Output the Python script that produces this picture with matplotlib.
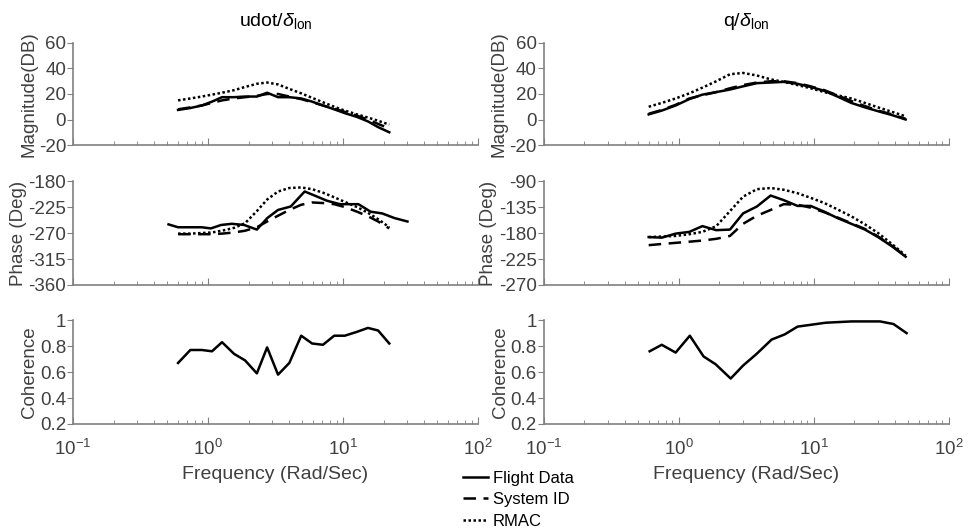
import numpy as np
import matplotlib.pyplot as plt

plt.rcParams['font.family'] = ['Liberation Sans', 'DejaVu Sans']
plt.rcParams['mathtext.fontset'] = 'custom'
plt.rcParams['mathtext.rm'] = 'Liberation Sans'
plt.rcParams['mathtext.it'] = 'Liberation Sans:italic'
plt.rcParams['axes.unicode_minus'] = False

# ---- udot / delta_lon ----
freq_u = [0.6, 0.74, 0.9, 1.07, 1.27, 1.56, 1.88, 2.3, 2.74, 3.3,
          4.0, 4.9, 5.9, 7.1, 8.6, 10.3, 12.7, 15.3, 18.2, 22]
mag_u_flight = [7.5, 9, 11, 14, 17.5, 17.5, 18, 18, 21, 17.5,
                17.5, 16.5, 14, 11, 8, 5, 2, -1.5, -6, -10]
mag_u_sysid = [8, 9.5, 11, 13, 15, 16.5, 17.5, 18.5, 20, 20,
               18, 16, 13.5, 11, 8.5, 6, 3, 0, -3.5, -7]
mag_u_rmac = [15, 16.5, 18, 19.5, 21, 23, 25.5, 28, 29, 27.5,
              24, 20.5, 17, 13.5, 10, 7, 4, 1.5, -1, -4]

freq_u_ph = [0.51, 0.6, 0.75, 0.9, 1.05, 1.25, 1.5, 1.85, 2.3, 2.75, 3.3,
             4.1, 5.2, 6.3, 7.6, 9.5, 11.5, 13, 16, 19.5, 24, 30]
ph_u_flight = [-255, -260, -260, -260, -262, -256, -254, -256, -264, -244, -230,
               -224, -198, -206, -214, -220, -220, -220, -233, -236, -244, -250]
ph_u_sysid = [-272, -272, -272, -272, -271, -269, -266, -260, -250, -240,
              -230, -221, -217, -218, -220, -225, -233, -241, -250, -262]
ph_u_rmac = [-271, -271, -270, -269, -266, -261, -253, -232, -212, -198,
             -192, -191, -194, -200, -208, -216, -225, -235, -246, -260]

coh_u = [0.67, 0.77, 0.77, 0.76, 0.83, 0.74, 0.69, 0.59, 0.79, 0.58,
         0.67, 0.88, 0.82, 0.81, 0.88, 0.88, 0.91, 0.94, 0.92, 0.82]

# ---- q / delta_lon ----
freq_q = [0.6, 0.75, 0.95, 1.2, 1.5, 1.9, 2.4, 3.0, 3.8, 4.8,
          6.0, 7.6, 9.5, 12, 15, 19, 24, 30, 38, 48]
mag_q_flight = [4, 7, 11, 16, 19.5, 21.5, 23.5, 26, 28.5, 29,
                29.5, 28, 25.5, 22.5, 18, 13, 9.5, 6.5, 3.5, 0]
mag_q_sysid = [4.5, 7.5, 11.5, 16.5, 19, 21.5, 24.5, 27, 29, 30,
               30, 28.5, 26, 23, 19, 14.5, 10.5, 7, 4, 0.5]
mag_q_rmac = [10, 13, 16.5, 20.5, 25, 30, 35.5, 36.5, 34.5, 31.5,
              29.5, 27, 24.5, 21.5, 19, 16.5, 13, 9.5, 6, 2.5]

ph_q_flight = [-187, -188, -181, -178, -168, -175, -174, -146, -134, -115,
               -123, -133, -133, -143, -154, -164, -174, -187, -203, -221]
ph_q_sysid = [-201, -199, -197, -195, -193, -190, -185, -164, -150, -140,
              -130, -131, -136, -144, -153, -163, -173, -186, -202, -220]
ph_q_rmac = [-187, -186, -185, -182, -178, -168, -142, -117, -104, -102,
             -105, -111, -119, -128, -139, -151, -165, -180, -199, -219]

freq_q_coh = [0.61, 0.75, 0.95, 1.21, 1.53, 1.88, 2.43, 3.0, 3.78, 4.88,
              6.1, 7.6, 12.3, 19.1, 31, 39, 48.8]
coh_q = [0.76, 0.81, 0.75, 0.88, 0.72, 0.66, 0.55, 0.65, 0.74, 0.85,
         0.89, 0.95, 0.98, 0.99, 0.99, 0.97, 0.90]

mag_ticks = [-20, 0, 20, 40, 60]
ph_u_ticks = [-360, -315, -270, -225, -180]
ph_q_ticks = [-270, -225, -180, -135, -90]
coh_ticks = [0.2, 0.4, 0.6, 0.8, 1]
coh_labels = ['0.2', '0.4', '0.6', '0.8', '1']

axis_col = '#808080'
text_col = '#404040'
fs = 13.5

fig = plt.figure(figsize=(9.76, 5.30), dpi=100)

lefts = [0.0748, 0.557]
width = 0.415
rows = [(0.7264, 0.1925), (0.4623, 0.196), (0.2, 0.196)]


def style_axis(ax, yticks, ylim, ylabel, labels=None, show_x=False):
    ax.set_xscale('log')
    ax.set_xlim(0.1, 100)
    ax.set_ylim(*ylim)
    ax.set_yticks(yticks)
    if labels is not None:
        ax.set_yticklabels(labels)
    for s in ['top', 'right']:
        ax.spines[s].set_visible(False)
    for s in ['left', 'bottom']:
        ax.spines[s].set_color(axis_col)
        ax.spines[s].set_linewidth(1.2)
    ax.tick_params(axis='x', which='both', direction='in', colors=axis_col,
                   labelcolor=text_col, labelsize=fs, pad=11)
    ax.tick_params(axis='x', which='major', length=5)
    ax.tick_params(axis='x', which='minor', length=3)
    ax.tick_params(axis='y', direction='out', length=4, colors=axis_col,
                   labelcolor=text_col, labelsize=fs, pad=1)
    if not show_x:
        ax.set_xticklabels([])
        ax.set_xticklabels([], minor=True)
    ax.set_ylabel(ylabel, fontsize=fs, color=text_col, labelpad=1)


ls_flight = dict(color='black', lw=1.8, linestyle='-')
ls_sysid = dict(color='black', lw=1.8, linestyle=(0, (5, 3)))
ls_rmac = dict(color='black', lw=1.8, linestyle=(0, (1, 1)))

# left column
ax = fig.add_axes([lefts[0], rows[0][0], width, rows[0][1]])
ax.plot(freq_u, mag_u_flight, **ls_flight)
ax.plot(freq_u, mag_u_sysid, **ls_sysid)
ax.plot(freq_u, mag_u_rmac, **ls_rmac)
style_axis(ax, mag_ticks, (-20, 60), 'Magnitude(DB)')
ax.set_title(r'udot/$\delta_{\rm lon}$', fontsize=fs + 0.5, color='black', pad=12)

ax = fig.add_axes([lefts[0], rows[1][0], width, rows[1][1]])
ax.plot(freq_u_ph, ph_u_flight, **ls_flight)
ax.plot(freq_u, ph_u_sysid, **ls_sysid)
ax.plot(freq_u, ph_u_rmac, **ls_rmac)
style_axis(ax, ph_u_ticks, (-360, -180), 'Phase (Deg)')

ax = fig.add_axes([lefts[0], rows[2][0], width, rows[2][1]])
ax.plot(freq_u, coh_u, **ls_flight)
style_axis(ax, coh_ticks, (0.2, 1), 'Coherence', coh_labels, show_x=True)
ax.set_xlabel('Frequency (Rad/Sec)', fontsize=fs + 0.5, color=text_col, labelpad=5)

# right column
ax = fig.add_axes([lefts[1], rows[0][0], width, rows[0][1]])
ax.plot(freq_q, mag_q_flight, **ls_flight)
ax.plot(freq_q, mag_q_sysid, **ls_sysid)
ax.plot(freq_q, mag_q_rmac, **ls_rmac)
style_axis(ax, mag_ticks, (-20, 60), 'Magnitude(DB)')
ax.set_title(r'q/$\delta_{\rm lon}$', fontsize=fs + 0.5, color='black', pad=12)

ax = fig.add_axes([lefts[1], rows[1][0], width, rows[1][1]])
ax.plot(freq_q, ph_q_flight, **ls_flight)
ax.plot(freq_q, ph_q_sysid, **ls_sysid)
ax.plot(freq_q, ph_q_rmac, **ls_rmac)
style_axis(ax, ph_q_ticks, (-270, -90), 'Phase (Deg)')

ax = fig.add_axes([lefts[1], rows[2][0], width, rows[2][1]])
ax.plot(freq_q_coh, coh_q, **ls_flight)
style_axis(ax, coh_ticks, (0.2, 1), 'Coherence', coh_labels, show_x=True)
ax.set_xlabel('Frequency (Rad/Sec)', fontsize=fs + 0.5, color=text_col, labelpad=5)

# legend
handles = [plt.Line2D([], [], **ls_flight),
           plt.Line2D([], [], **ls_sysid),
           plt.Line2D([], [], **ls_rmac)]
fig.legend(handles, ['Flight Data', 'System ID', 'RMAC'],
           loc='upper left', bbox_to_anchor=(0.474, 0.112), frameon=False,
           fontsize=12, handlelength=1.5, handletextpad=0.3,
           labelspacing=0.4, borderaxespad=0, borderpad=0)

fig.savefig('out.png', dpi=100)
